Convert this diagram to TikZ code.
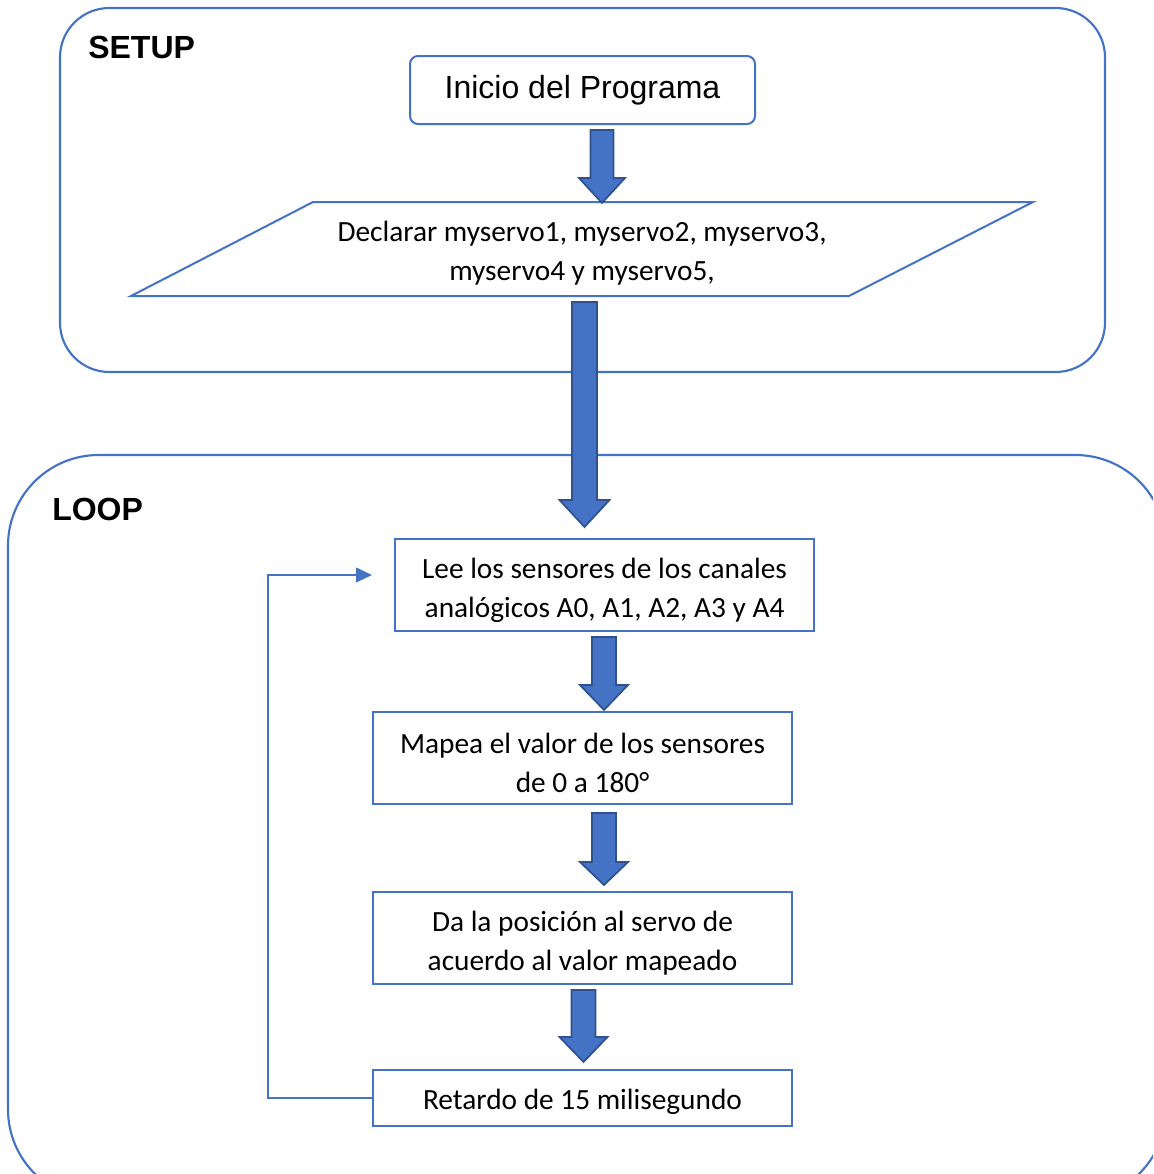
\documentclass[tikz,border=0pt]{standalone}
\usepackage{fontspec}
\setmainfont{Carlito}
\newfontfamily\arialf{Liberation Sans}
\usetikzlibrary{arrows.meta}
\definecolor{oblue}{HTML}{4472C4}
\definecolor{odark}{HTML}{2F528F}
\newcommand\blockarrow[5]{% cx, top, neck, tip, shaft-half, (head-half=#5*2)
  \draw[barrow] (#1-#5,#2) -- (#1+#5,#2) -- (#1+#5,#3) -- (#1+2*#5,#3) -- (#1,#4)
    -- (#1-2*#5,#3) -- (#1-#5,#3) -- cycle;}
\tikzset{
  frame/.style={draw=oblue, line width=1.6pt},
  boxtext/.style={align=center, font=\fontsize{22}{29.25}\selectfont, inner sep=0pt},
  procbox/.style={draw=oblue, line width=1.5pt, minimum width=314.25pt, minimum height=69pt, inner sep=0pt},
  barrow/.style={fill=oblue, draw=odark, line width=1.3pt, line join=miter},
  flow/.style={draw=oblue, line width=1.5pt},
  title/.style={font=\arialf\bfseries\fontsize{24}{28}\selectfont, anchor=west, inner sep=0pt}
}
\begin{document}
\begin{tikzpicture}[x=0.75pt,y=-0.75pt]
\clip (0,0) rectangle (1153,1174);
\fill[white] (0,0) rectangle (1153,1174);
% SETUP frame
\draw[frame, rounded corners=37pt] (60,8) rectangle (1105,372);
\node[title] (setup) at (88,47) {SETUP};
% LOOP frame
\draw[frame, rounded corners=68pt] (8,455) rectangle (1166,1200);
\node[title] (loop) at (52,509) {LOOP};
% Inicio
\node[draw=oblue, line width=1.5pt, rounded corners=6pt, minimum width=258.75pt, minimum height=51pt,
  font=\arialf\fontsize{24}{28}\selectfont, inner sep=0pt] (inicio) at (582.5,90) {Inicio del Programa};
% Parallelogram
\draw[draw=oblue, line width=1.5pt, line join=miter] (313,202) -- (1033,202) -- (849,296) -- (131,296) -- cycle;
\node[boxtext] (decl) at (582,253.5)
  {Declarar myservo1, myservo2, myservo3,\\myservo4 y myservo5,};
% Process boxes
\node[procbox] (lee) at (604.5,585) {};
\node[boxtext] (leet) at (604.5,590) {Lee los sensores de los canales\\anal\'ogicos A0, A1, A2, A3 y A4};
\node[procbox] (mapea) at (582.5,758) {};
\node[boxtext] (mapeat) at (582.5,763) {Mapea el valor de los sensores\\de 0 a 180°};
\node[procbox] (da) at (582.5,938) {};
\node[boxtext] (dat) at (582.5,943) {Da la posici\'on al servo de\\acuerdo al valor mapeado};
\node[procbox, minimum height=42pt] (ret) at (582.5,1098) {};
\node[boxtext] (rett) at (582.5,1102) {Retardo de 15 milisegundo};
% Block arrows
\blockarrow{602}{130}{178}{203}{11.5}
\blockarrow{584.5}{302}{500}{527}{12.5}
\blockarrow{604}{637}{685}{710}{12}
\blockarrow{604}{813}{862}{885}{12}
\blockarrow{583.5}{990}{1037}{1062}{12}
% Feedback loop
\coordinate (fbend) at (372,575);
\draw[flow, -{Triangle[length=12pt,width=11pt]}] (ret.west) -- (268,1098) -- (268,575) -- (fbend);
\end{tikzpicture}
\end{document}
